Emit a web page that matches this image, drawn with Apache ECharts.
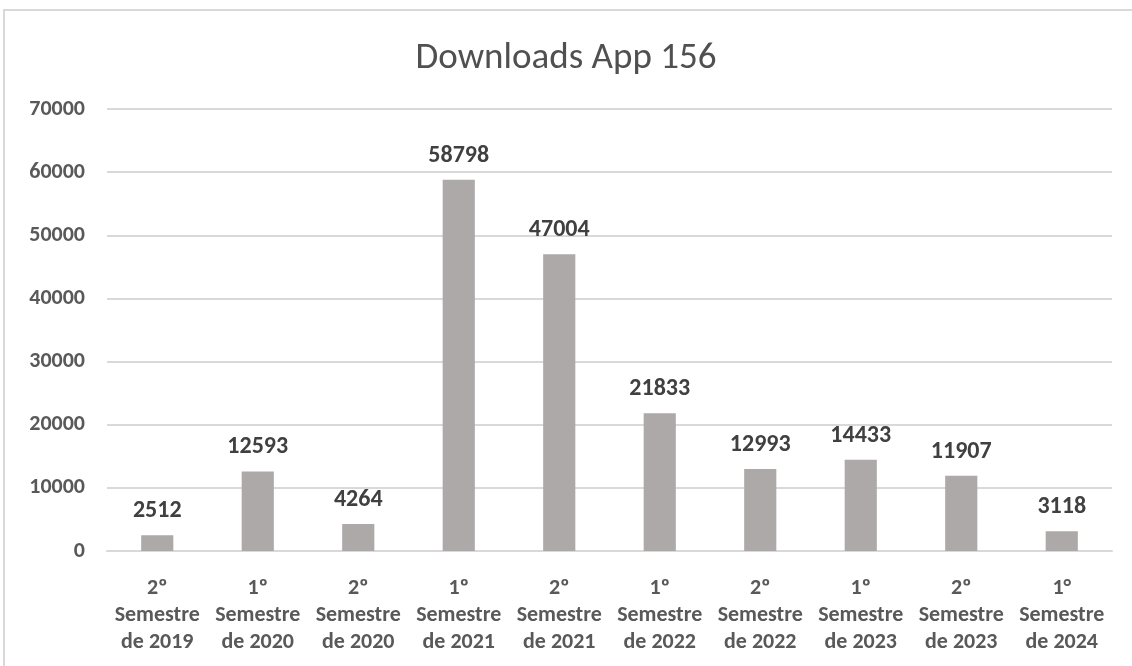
<!DOCTYPE html>
<html><head><meta charset="utf-8">
<script src="https://cdn.jsdelivr.net/npm/echarts@6/dist/echarts.min.js"></script>
<style>
html,body{margin:0;padding:0;background:#fff;overflow:hidden;}
#frame{position:absolute;left:3px;top:9px;width:1140px;height:680px;border:2px solid #d9d9d9;box-sizing:border-box;}
#c{position:absolute;left:0;top:0;width:1132px;height:666px;}
</style></head>
<body>
<div id="frame"></div>
<div id="c"></div>
<script>
const categories = ["2º\nSemestre\nde 2019","1º\nSemestre\nde 2020","2º\nSemestre\nde 2020","1º\nSemestre\nde 2021","2º\nSemestre\nde 2021","1º\nSemestre\nde 2022","2º\nSemestre\nde 2022","1º\nSemestre\nde 2023","2º\nSemestre\nde 2023","1°\nSemestre\nde 2024"];
const downloads = [2512,12593,4264,58798,47004,21833,12993,14433,11907,3118];
const chartTitle = "Downloads App 156";
const font = "Carlito, 'Liberation Sans Narrow', 'Open Sans', sans-serif";
const chart = echarts.init(document.getElementById('c'));
chart.setOption({
  animation:false,
  title:{text:chartTitle,left:'center',top:35,textStyle:{fontFamily:font,fontSize:37,fontWeight:'normal',color:'#505050'}},
  grid:{left:107,right:20,top:109,bottom:115},
  xAxis:{type:'category',data:categories,
    axisLine:{lineStyle:{color:'#d9d9d9',width:2}},axisTick:{show:false},
    axisLabel:{interval:0,fontFamily:font,fontSize:22,fontWeight:'bold',color:'#595959',lineHeight:27,margin:24}},
  yAxis:{type:'value',min:0,max:70000,interval:10000,
    axisLine:{show:false},axisTick:{show:false},
    splitLine:{lineStyle:{color:'#d9d9d9',width:2}},
    axisLabel:{fontFamily:font,fontSize:22,fontWeight:'bold',color:'#595959',margin:22,formatter:v=>String(v)}},
  series:[{type:'bar',data:downloads,barWidth:'32%',itemStyle:{color:'#ADA9A9'},
    label:{show:true,position:'top',distance:12,fontFamily:font,fontSize:24,fontWeight:'bold',color:'#404040'}}]
});
</script>
</body></html>
